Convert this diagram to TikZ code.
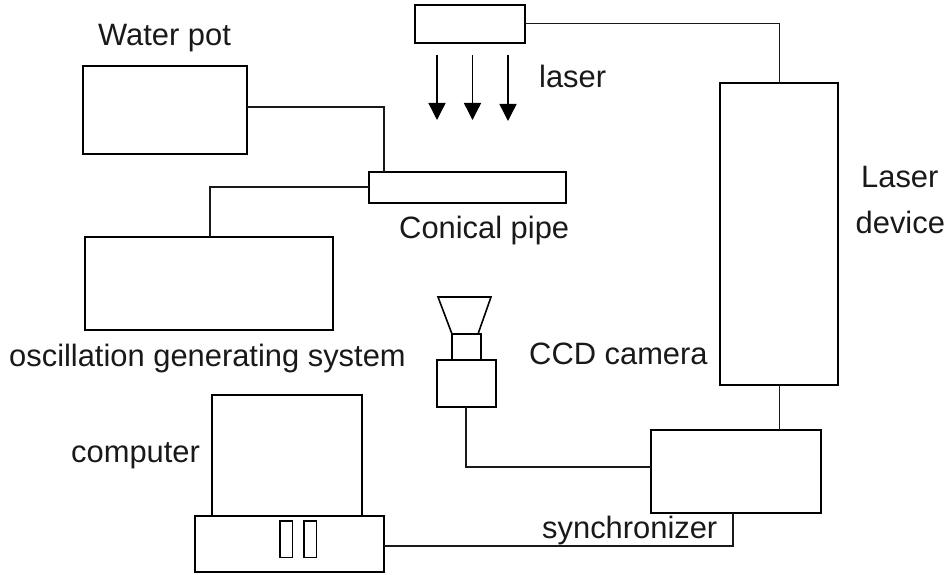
\documentclass[tikz,border=0pt]{standalone}
\usepackage{fontspec}
\setmainfont{Liberation Sans}
\usetikzlibrary{arrows.meta}
\tikzset{
  box/.style={draw=black,line width=1.6pt,fill=white,inner sep=0pt,outer sep=0pt,anchor=north west},
  slot/.style={box,line width=1.3pt},
  wire/.style={draw=black!90,line width=1.5pt},
  beam/.style={draw=black,line width=1.4pt,-{Stealth[length=17bp,width=17bp,inset=0pt]}},
  lab/.style={font=\fontsize{31}{35}\selectfont,inner sep=0pt,text=black!90,anchor=base west}
}
\newcommand{\bx}[6][box]{\node[#1,minimum width=#5*1bp,minimum height=#6*1bp] (#2) at (#3*1bp,-#4*1bp) {};}
\begin{document}
\begin{tikzpicture}[x=1bp,y=1bp]
\useasboundingbox (0,0) rectangle (947,-575);
\bx{top}{415}{5}{110}{38}
\bx{pot}{83}{66}{164}{88}
\bx{pipe}{369}{172}{197}{31}
\bx{osc}{85}{237}{248}{93}
\bx{laserdev}{720}{83}{118}{302}
\bx{sync}{651}{430}{170}{83}
\bx{ccd}{437}{360}{59}{47}
\bx{neck}{452}{334}{29}{26}
\bx{screen}{212}{395}{150}{121}
\bx{base}{195}{516}{189}{56}
\bx[slot]{sa}{280}{521}{12.5}{36.5}
\bx[slot]{sb}{304}{521}{12.5}{36.5}
\coordinate (hornTL) at (438,-297);
\coordinate (hornBL) at (452,-334);
\coordinate (hornTR) at (491,-297);
\coordinate (hornBR) at (478,-334);
\draw[line width=1.6pt] (hornBL) -- (hornTL) -- (hornTR) -- (hornBR);
\coordinate (a1) at (437,-55); \coordinate (a1e) at (437,-120);
\coordinate (a2) at (472.5,-55); \coordinate (a2e) at (472.5,-120);
\coordinate (a3) at (508,-55); \coordinate (a3e) at (508,-121);
\draw[beam] (a1) -- (a1e);
\draw[beam] (a2) -- (a2e);
\draw[beam] (a3) -- (a3e);
\draw[wire] (top.east |- 0,-23.5) -- (779.5,-23.5) -- (laserdev.north -| 779.5,0);
\draw[wire] (pot.east |- 0,-107) -- (384,-107) -- (pipe.north -| 384,0);
\draw[wire] (pipe.west |- 0,-187) -- (210,-187) -- (osc.north -| 210,0);
\draw[wire] (laserdev.south -| 779.5,0) -- (sync.north -| 779.5,0);
\draw[wire] (ccd.south -| 466,0) -- (466,-467) -- (sync.west |- 0,-467);
\draw[wire] (base.east |- 0,-546) -- (733,-546) -- (sync.south -| 733,0);
\node[lab] (t1) at (98,-46) {Water pot};
\node[lab] (t2) at (539,-88) {laser};
\node[lab] (t3) at (861,-188) {Laser};
\node[lab] (t4) at (855.5,-234) {device};
\node[lab] (t5) at (399,-238.5) {Conical pipe};
\node[lab] (t6) at (9,-366) {oscillation generating system};
\node[lab] (t7) at (529,-364) {CCD camera};
\node[lab] (t8) at (71,-462) {computer};
\node[lab] (t9) at (542,-538) {synchronizer};
\end{tikzpicture}
\end{document}
